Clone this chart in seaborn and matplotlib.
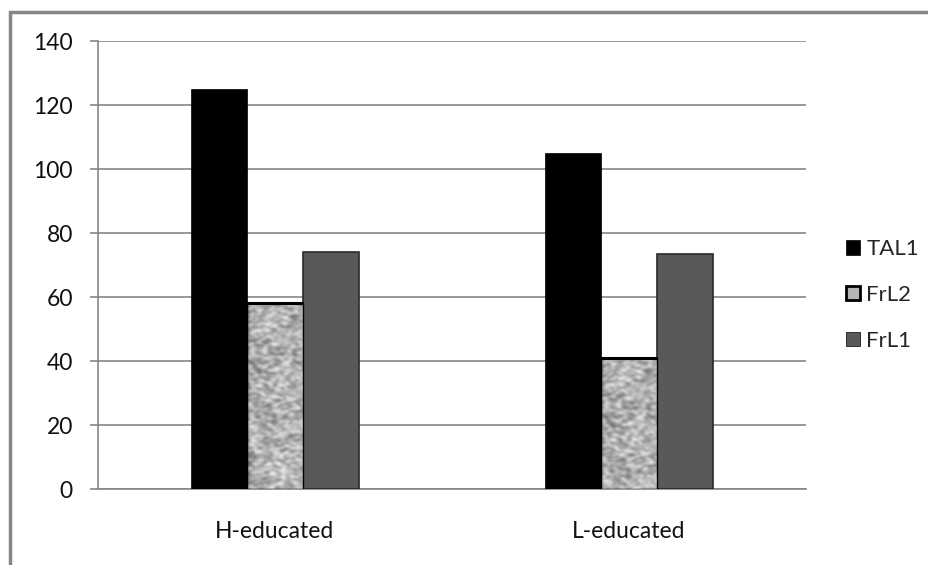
import matplotlib
matplotlib.use("Agg")
import matplotlib.pyplot as plt
import matplotlib.patches as mpatches
import numpy as np
import pandas as pd
import seaborn as sns

groups = ["H-educated", "L-educated"]
series = ["TAL1", "FrL2", "FrL1"]
tal1 = [125, 105]
frl2 = [58, 41]
frl1 = [74, 73.5]
y_ticks = [0, 20, 40, 60, 80, 100, 120, 140]

df = pd.DataFrame({
    "group": groups * 3,
    "series": ["TAL1"] * 2 + ["FrL2"] * 2 + ["FrL1"] * 2,
    "value": tal1 + frl2 + frl1,
})

sns.set_theme(style="white")
plt.rcParams["font.family"] = ["Lato", "DejaVu Sans"]

fig = plt.figure(figsize=(9.29, 5.65), dpi=100)
ax = fig.add_axes([98 / 929, 1 - 489 / 565, 708 / 929, 448 / 565])

colors = {"TAL1": "#000000", "FrL2": "#b4b4b4", "FrL1": "#595959"}
sns.barplot(data=df, x="group", y="value", hue="series", hue_order=series,
            palette=colors, width=0.475, gap=0, saturation=1, ax=ax,
            legend=False, zorder=3)

# speckle texture for the FrL2 bars
rng = np.random.default_rng(7)
noise = rng.random((120, 24))
k = np.ones(2) / 2
noise = np.apply_along_axis(lambda r: np.convolve(r, k, mode="same"), 1, noise)
noise = np.apply_along_axis(lambda c: np.convolve(c, k, mode="same"), 0, noise)
noise = (noise - noise.min()) / (noise.max() - noise.min())

for cont, name in zip(ax.containers, series):
    for bar in cont:
        if name == "TAL1":
            bar.set_edgecolor("#000000")
            bar.set_linewidth(0.5)
        elif name == "FrL1":
            bar.set_edgecolor("#2a2a2a")
            bar.set_linewidth(1.2)
        else:
            bar.set_edgecolor("#000000")
            bar.set_linewidth(1.2)
            x0, y0 = bar.get_x(), bar.get_y()
            n_rows = max(int(noise.shape[0] * bar.get_height() / 60), 10)
            im = ax.imshow(noise[:n_rows], cmap="gray", vmin=-0.55, vmax=1.0,
                           extent=[x0, x0 + bar.get_width(), y0, y0 + bar.get_height()],
                           aspect="auto", zorder=3.5, interpolation="bicubic")
            im.set_clip_path(bar)
            ax.add_patch(mpatches.Rectangle((x0, y0), bar.get_width(), bar.get_height(),
                                            fill=False, edgecolor="#000000", lw=1.0, zorder=3.6))
            ax.plot([x0, x0 + bar.get_width()], [y0 + bar.get_height()] * 2,
                    color="#000000", lw=2.2, zorder=3.7, solid_capstyle="butt")

ax.set_xlim(-0.5, 1.5)
ax.set_ylim(0, 140)
ax.set_yticks(y_ticks)
ax.set_yticklabels([str(v) for v in y_ticks], fontsize=16.5, color="#111111")
ax.yaxis.grid(True, color="#868686", lw=1.2, zorder=0)
ax.set_axisbelow(True)
ax.set_xlabel("")
ax.set_ylabel("")
ax.set_xticks([0, 1])
ax.set_xticklabels(groups, fontsize=16.5, color="#111111")
ax.set_xticks([-0.5, 0.5, 1.5], minor=True)
ax.tick_params(axis="x", which="major", length=0, pad=23)
ax.tick_params(axis="x", which="minor", length=6, width=1.2, color="#868686", direction="out")
ax.tick_params(axis="y", length=6, width=1.2, color="#868686", direction="out", pad=12, left=True)
for s in ["top", "right"]:
    ax.spines[s].set_visible(False)
for s in ["left", "bottom"]:
    ax.spines[s].set_color("#868686")
    ax.spines[s].set_linewidth(1.2)

handles = [mpatches.Patch(facecolor=colors[s], edgecolor="#000000",
                          lw=2 if s == "FrL2" else 0.5) for s in series]
fig.legend(handles, series, loc="center left", bbox_to_anchor=(826 / 929, 1 - 295 / 565),
           frameon=False, fontsize=16, handlelength=0.62, handleheight=0.62,
           handletextpad=0.3, labelspacing=1.15)

# outer chart border
fig.add_artist(mpatches.Rectangle((10 / 929, -0.05), 1.05, 1 - 12 / 565 + 0.05,
                                  transform=fig.transFigure, fill=False,
                                  edgecolor="#878787", lw=2.5))

fig.savefig("out.png", dpi=100)
